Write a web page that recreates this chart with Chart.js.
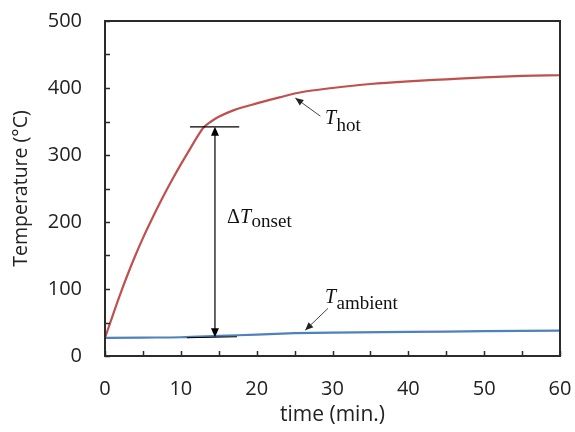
<!DOCTYPE html>
<html><head><meta charset="utf-8">
<script src="https://cdn.jsdelivr.net/npm/chart.js@4/dist/chart.umd.min.js"></script>
<style>html,body{margin:0;padding:0;background:#fff;}#wrap{width:575px;height:432px;}</style>
</head><body><div id="wrap"><canvas id="c" width="575" height="432"></canvas></div>
<script>
// ---- data ----
const timeHot = [0,1,2,3,4,5,6,7,8,9,10,11,12,13,14,15,17,20,23,26,30,35,40,45,50,55,60];
const tempHot = [27,60,92,122,150,176,200,223,245,266,286,305,324,341,350,357,367,377,386,394,400,406,410,413,416,418,419];
const timeAmbient = [0,5,10,15,20,25,30,40,50,60];
const tempAmbient = [27,27.5,28,30,32,34,35,36,37,38];
const xTickLabels = [0,10,20,30,40,50,60];
const yTickLabels = [0,100,200,300,400,500];
const xTitle = 'time (min.)';
const yTitle = 'Temperature (°C)';

// annotation anchors (data units)
const onsetTime = 14.5, onsetTop = 342, onsetBottom = 28;
const onsetTopBar = [11.2, 17.7];
const onsetBottomBar = [10.8, 17.4];
const onsetLabelAt = [16.1, 198];
const hotLabelAt = [29.0, 346];
const hotArrow = [[28.4, 358], [25.1, 385]];
const ambLabelAt = [29.0, 79];
const ambArrow = [[29.4, 71], [26.4, 38.5]];

const toXY = (xs, ys) => xs.map((x, i) => ({x, y: ys[i]}));

function arrowHead(ctx, x1, y1, x2, y2, len, wid) {
  const a = Math.atan2(y2 - y1, x2 - x1);
  ctx.beginPath();
  ctx.moveTo(x2, y2);
  ctx.lineTo(x2 - len*Math.cos(a) + wid*Math.sin(a), y2 - len*Math.sin(a) - wid*Math.cos(a));
  ctx.lineTo(x2 - len*Math.cos(a) - wid*Math.sin(a), y2 - len*Math.sin(a) + wid*Math.cos(a));
  ctx.closePath();
  ctx.fill();
}

function subLabel(ctx, x, y, pre, main, sub, dy) {
  ctx.textBaseline = 'alphabetic';
  ctx.textAlign = 'left';
  ctx.fillStyle = '#111';
  let cx = x;
  if (pre) {
    ctx.font = '20px "Liberation Serif"';
    ctx.fillText(pre, cx, y);
    cx += ctx.measureText(pre).width;
  }
  ctx.font = 'italic 20px "Liberation Serif"';
  ctx.fillText(main, cx, y);
  cx += ctx.measureText(main).width + 0.5;
  ctx.font = '19px "Liberation Serif"';
  ctx.fillText(sub, cx, y + dy);
}

const decor = {
  id: 'decor',
  afterDatasetsDraw(chart) {
    const ctx = chart.ctx, xs = chart.scales.x, ys = chart.scales.y, a = chart.chartArea;
    const X = v => xs.getPixelForValue(v), Y = v => ys.getPixelForValue(v);
    ctx.save();
    ctx.strokeStyle = '#2b2b2b';
    ctx.lineWidth = 2;
    ctx.strokeRect(a.left, a.top, a.right - a.left, a.bottom - a.top);
    ctx.lineWidth = 1.5;
    ctx.beginPath();
    xs.ticks.forEach(t => { const p = Math.round(X(t.value)) + 0.5; ctx.moveTo(p, a.bottom); ctx.lineTo(p, a.bottom - 5); });
    ys.ticks.forEach(t => { const p = Math.round(Y(t.value)) + 0.5; ctx.moveTo(a.left, p); ctx.lineTo(a.left + 5, p); });
    ctx.stroke();
    ctx.strokeStyle = '#000'; ctx.fillStyle = '#000'; ctx.lineWidth = 1.2;
    ctx.beginPath();
    ctx.moveTo(X(onsetTopBar[0]), Y(onsetTop)); ctx.lineTo(X(onsetTopBar[1]), Y(onsetTop));
    ctx.moveTo(X(onsetBottomBar[0]), Y(onsetBottom) + 0.5); ctx.lineTo(X(onsetBottomBar[1]), Y(onsetBottom) - 0.5);
    ctx.moveTo(X(onsetTime), Y(onsetTop) + 6); ctx.lineTo(X(onsetTime), Y(onsetBottom) - 6);
    ctx.stroke();
    arrowHead(ctx, X(onsetTime), Y(onsetBottom), X(onsetTime), Y(onsetTop), 9, 4);
    arrowHead(ctx, X(onsetTime), Y(onsetTop), X(onsetTime), Y(onsetBottom), 9, 4);
    ctx.strokeStyle = '#444'; ctx.fillStyle = '#222'; ctx.lineWidth = 1;
    [hotArrow, ambArrow].forEach(ar => {
      const x1 = X(ar[0][0]), y1 = Y(ar[0][1]), x2 = X(ar[1][0]), y2 = Y(ar[1][1]);
      ctx.beginPath(); ctx.moveTo(x1, y1); ctx.lineTo(x2, y2); ctx.stroke();
      arrowHead(ctx, x1, y1, x2, y2, 8, 3.5);
    });
    subLabel(ctx, X(onsetLabelAt[0]), Y(onsetLabelAt[1]), 'Δ', 'T', 'onset', 4);
    subLabel(ctx, X(hotLabelAt[0]), Y(hotLabelAt[1]), '', 'T', 'hot', 7);
    subLabel(ctx, X(ambLabelAt[0]), Y(ambLabelAt[1]), '', 'T', 'ambient', 6);
    ctx.restore();
  }
};

const tickFont = {family: '"Open Sans"', size: 20};
const xTitleFont = {family: '"Open Sans"', size: 21};
const yTitleFont = {family: '"Open Sans"', size: 19.5};
new Chart(document.getElementById('c'), {
  type: 'line',
  data: {
    datasets: [
      {data: toXY(timeHot, tempHot), borderColor: '#c0504d', borderWidth: 2.2, cubicInterpolationMode: 'monotone', pointRadius: 0, fill: false},
      {data: toXY(timeAmbient, tempAmbient), borderColor: '#4f81bd', borderWidth: 2.2, cubicInterpolationMode: 'monotone', pointRadius: 0, fill: false}
    ]
  },
  options: {
    responsive: false, animation: false, devicePixelRatio: 1,
    layout: {padding: {top: 21, right: 15, left: 0, bottom: 0}},
    plugins: {legend: {display: false}, tooltip: {enabled: false}},
    scales: {
      x: {
        type: 'linear', min: 0, max: 60,
        ticks: {stepSize: 5, autoSkip: false, maxRotation: 0, padding: 21, color: '#222', font: tickFont,
          callback: v => xTickLabels.includes(v) ? String(v) : ''},
        grid: {display: false, drawTicks: false}, border: {display: false},
        title: {display: true, text: xTitle, color: '#222', font: xTitleFont, padding: {top: 0, bottom: 4}},
        afterFit: s => { s.height = 76; s.paddingLeft = 0; s.paddingRight = 0; }
      },
      y: {
        type: 'linear', min: 0, max: 500,
        ticks: {stepSize: 50, autoSkip: false, padding: 23, color: '#222', font: tickFont,
          callback: v => yTickLabels.includes(v) ? String(v) : ''},
        grid: {display: false, drawTicks: false}, border: {display: false},
        title: {display: true, text: yTitle, color: '#222', font: yTitleFont, padding: {top: 10, bottom: 0}},
        afterFit: s => { s.width = 105; s.paddingTop = 0; s.paddingBottom = 0; }
      }
    }
  },
  plugins: [decor]
});
</script></body></html>
